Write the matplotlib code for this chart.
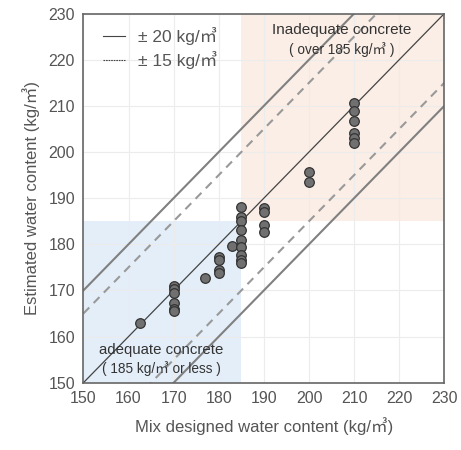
import numpy as np
from matplotlib import pyplot as plt

plt.rcParams['font.family'] = ['Liberation Sans', 'Noto Sans CJK KR', 'DejaVu Sans']

# mix designed vs estimated water content (kg/m3)
designed = [162.5,
            170, 170, 170, 170, 170, 170,
            177,
            180, 180, 180, 180,
            183,
            185, 185, 185, 185, 185, 185, 185, 185, 185,
            190, 190, 190, 190,
            200, 200,
            210, 210, 210, 210, 210, 210]
estimated = [163,
             171, 170.2, 169.5, 167.3, 166, 165.5,
             172.7,
             177.3, 176.5, 174.4, 173.7,
             179.6,
             188, 186, 185, 183, 181, 179.4, 177.6, 176.6, 176,
             187.8, 187, 184.1, 182.6,
             195.7, 193.5,
             210.6, 208.8, 206.6, 204.2, 203, 202]

ticks = [150, 160, 170, 180, 190, 200, 210, 220, 230]
limit = 185

fig = plt.figure(figsize=(4.61, 4.50), dpi=100)
ax = fig.add_axes([0.181, 0.1496, 0.783, 0.8204])

ax.set_xlim(150, 230)
ax.set_ylim(150, 230)

# zones
ax.axvspan(150, limit, ymin=0, ymax=(limit - 150) / 80, color='#e4eef8', zorder=0, lw=0)
ax.axvspan(limit, 230, ymin=(limit - 150) / 80, ymax=1, color='#fbeee6', zorder=0, lw=0)

ax.set_xticks(ticks)
ax.set_yticks(ticks)
ax.grid(True, color='#ececec', lw=0.8, zorder=0.5)
ax.set_axisbelow(True)

x = np.array([150, 230])
ax.plot(x, x, color='#444444', lw=0.9, zorder=2)
for d in (20, -20):
    ax.plot(x, x + d, color='#808080', lw=1.5, zorder=2)
for d in (15, -15):
    ax.plot(x, x + d, color='#999999', lw=1.5, ls=(0, (4, 3)), zorder=2)

ax.scatter(designed, estimated, s=48, c='#707070', edgecolors='#333333',
           linewidths=0.9, zorder=3)

# legend
ax.plot([154.3, 159.2], [225.2, 225.2], color='#444444', lw=0.8, zorder=3)
ax.plot([154.3, 159.2], [220, 220], color='#444444', lw=0.8, ls=(0, (1.5, 0.8)), zorder=3)
ax.text(162, 225.2, '± 20 kg/㎥', fontsize=12.5, color='#555555', va='center')
ax.text(162, 220, '± 15 kg/㎥', fontsize=12.5, color='#555555', va='center')

ax.text(207.3, 226.4, 'Inadequate concrete', fontsize=11, color='#333333', ha='center', va='center')
ax.text(207.3, 222.2, '( over 185 kg/㎥ )', fontsize=9.8, color='#333333', ha='center', va='center')
ax.text(167.3, 157, 'adequate concrete', fontsize=10.8, color='#333333', ha='center', va='center')
ax.text(167.3, 153, '( 185 kg/㎥ or less )', fontsize=9.8, color='#333333', ha='center', va='center')

for s in ax.spines.values():
    s.set_color('#666666')
    s.set_linewidth(1.2)
ax.tick_params(length=0, labelsize=11.5, labelcolor='#555555', pad=6)

ax.set_xlabel('Mix designed water content (kg/㎥)', fontsize=12, color='#555555', labelpad=8)
ax.set_ylabel('Estimated water content (kg/㎥)', fontsize=12, color='#555555', labelpad=6)

fig.savefig('out.png', dpi=100)
